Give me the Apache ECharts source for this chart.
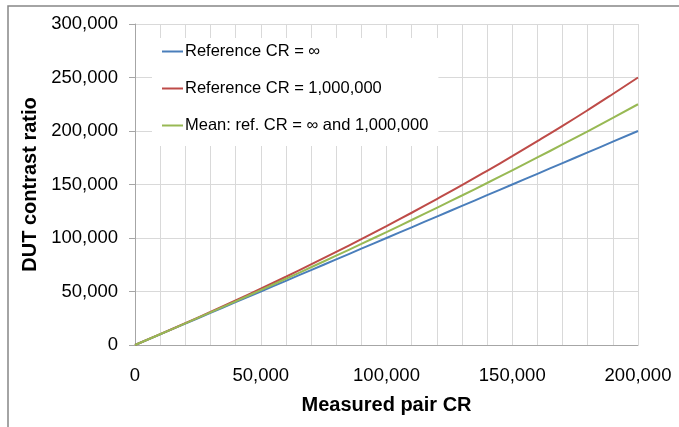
<!DOCTYPE html>
<html>
<head>
<meta charset="utf-8">
<script src="https://cdn.jsdelivr.net/npm/echarts@6/dist/echarts.min.js"></script>
<style>
  html, body { margin: 0; padding: 0; background: #fff; }
  #chart { width: 679px; height: 427px; }
</style>
</head>
<body>
<div id="chart"></div>
<script>
// measured pair CR (x)
const measured = [0, 10000, 20000, 30000, 40000, 50000, 60000, 70000, 80000, 90000, 100000,
  110000, 120000, 130000, 140000, 150000, 160000, 170000, 180000, 190000, 200000]
// DUT contrast ratio, reference CR = infinity
const refInf = [0, 10000, 20000, 30000, 40000, 50000, 60000, 70000, 80000, 90000, 100000,
  110000, 120000, 130000, 140000, 150000, 160000, 170000, 180000, 190000, 200000]
// DUT contrast ratio, reference CR = 1,000,000
const refMillion = [0, 10100, 20400, 30900, 41700, 52600, 63800, 75300, 87000, 98900, 111100,
  123600, 136400, 149400, 162800, 176500, 190500, 204800, 219500, 234600, 250000]
// mean of the two
const refMean = [0, 10050, 20200, 30450, 40850, 51300, 61900, 72650, 83500, 94450, 105550,
  116800, 128200, 139700, 151400, 163250, 175250, 187400, 199750, 212300, 225000]

const seriesNames = ['Reference CR = ∞', 'Reference CR = 1,000,000', 'Mean: ref. CR = ∞ and 1,000,000']
const seriesColors = ['#4a7ebb', '#be4b48', '#98b954']

const pairs = (ys) => measured.map((x, i) => [x, ys[i]])
const fmt = (v) => v.toLocaleString('en-US')

const chart = echarts.init(document.getElementById('chart'))
const font = 'Liberation Sans'

chart.setOption({
  animation: false,
  backgroundColor: '#fff',
  graphic: [{
    type: 'rect',
    shape: { x: 8, y: 6, width: 700, height: 450 },
    style: { fill: 'none', stroke: '#868686', lineWidth: 1.5 },
    silent: true
  }],
  grid: { left: 135, right: 41, top: 24, bottom: 82 },
  legend: {
    orient: 'vertical',
    left: 152,
    top: 38,
    backgroundColor: '#fff',
    padding: [5, 10, 12, 10],
    itemGap: 20,
    itemWidth: 21,
    itemHeight: 2,
    icon: 'rect',
    textStyle: { fontFamily: font, fontSize: 16.5, color: '#000', padding: [0, 0, 0, -3] },
    data: seriesNames
  },
  xAxis: {
    type: 'value',
    min: 0,
    max: 200000,
    interval: 50000,
    axisLine: { show: true, lineStyle: { color: '#a6a6a6', width: 1 } },
    axisTick: { show: false },
    axisLabel: { formatter: fmt, fontFamily: font, fontSize: 18.5, color: '#000', margin: 21 },
    splitLine: { show: true, lineStyle: { color: '#d9d9d9', width: 1 } },
    minorTick: { show: false, splitNumber: 5 },
    minorSplitLine: { show: true, lineStyle: { color: '#d9d9d9', width: 1 } },
    name: 'Measured pair CR',
    nameLocation: 'middle',
    nameGap: 50,
    nameTextStyle: { fontFamily: font, fontSize: 20, fontWeight: 'bold', color: '#000' }
  },
  yAxis: {
    type: 'value',
    min: 0,
    max: 300000,
    interval: 50000,
    axisLine: { show: true, lineStyle: { color: '#a6a6a6', width: 1 } },
    axisTick: { show: true, inside: false, length: 6, lineStyle: { color: '#a6a6a6' } },
    axisLabel: { formatter: fmt, fontFamily: font, fontSize: 18.5, color: '#000', margin: 17 },
    splitLine: { show: true, lineStyle: { color: '#d9d9d9', width: 1 } },
    name: 'DUT contrast ratio',
    nameLocation: 'middle',
    nameGap: 94,
    nameTextStyle: { fontFamily: font, fontSize: 20, fontWeight: 'bold', color: '#000' }
  },
  series: [refInf, refMillion, refMean].map((ys, i) => ({
    name: seriesNames[i],
    type: 'line',
    data: pairs(ys),
    symbol: 'none',
    smooth: true,
    color: seriesColors[i],
    lineStyle: { width: 2, color: seriesColors[i] },
    z: 3 + i
  }))
})
</script>
</body>
</html>
